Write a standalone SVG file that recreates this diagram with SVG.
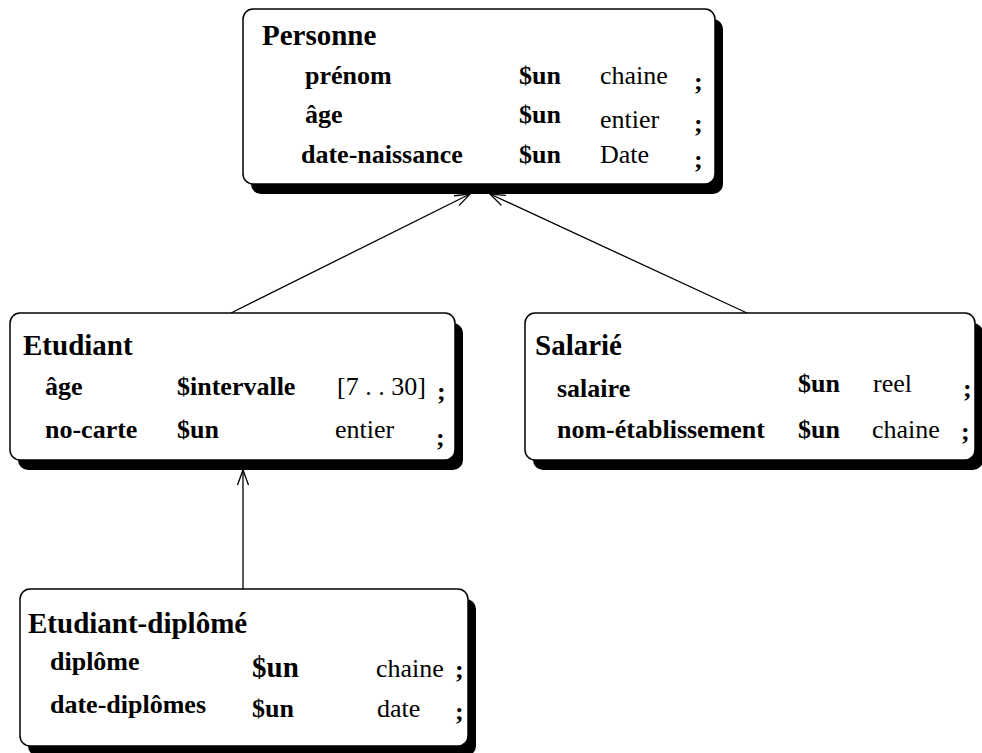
<svg xmlns="http://www.w3.org/2000/svg" width="982" height="753" viewBox="0 0 982 753">
  <style>
    .shadow { fill: #000; }
    .box { fill: #fff; stroke: #000; stroke-width: 1.5; }
    .title { font-family: "Liberation Serif", "Times New Roman", serif; font-weight: bold; font-size: 29px; fill: #000; }
    .attr { font-family: "Liberation Serif", "Times New Roman", serif; font-weight: bold; font-size: 26px; fill: #000; }
    .type { font-family: "Liberation Serif", "Times New Roman", serif; font-size: 26px; fill: #000; }
    .edge { stroke: #000; stroke-width: 1.3; fill: none; marker-end: url(#open); }
  </style>
  <defs>
    <marker id="open" markerUnits="userSpaceOnUse" markerWidth="20" markerHeight="14" refX="0" refY="0" viewBox="-16 -7 20 14" orient="auto">
      <path d="M -15,-5.5 L 0,0 L -15,5.5" fill="none" stroke="#000" stroke-width="1.3"/>
    </marker>
  </defs>

  <!-- inheritance links -->
  <g id="connectors">
    <line class="edge" x1="231" y1="313" x2="470" y2="194"/>
    <line class="edge" x1="747" y1="313" x2="490" y2="194"/>
    <line class="edge" x1="243" y1="589" x2="243" y2="470"/>
  </g>

  <g id="personne">
    <rect class="shadow" x="251" y="19" width="472" height="175" rx="10"/>
    <rect class="box" x="243" y="9" width="472" height="175" rx="10"/>
    <text class="title" x="262" y="45">Personne</text>
    <text class="attr" x="305" y="84">prénom</text>
    <text class="attr" x="519" y="84">$un</text>
    <text class="type" x="600" y="84">chaine</text>
    <text class="attr" x="694" y="90">;</text>
    <text class="attr" x="305" y="123">âge</text>
    <text class="attr" x="519" y="123">$un</text>
    <text class="type" x="600" y="128">entier</text>
    <text class="attr" x="694" y="132">;</text>
    <text class="attr" x="301" y="163">date-naissance</text>
    <text class="attr" x="519" y="163">$un</text>
    <text class="type" x="600" y="163">Date</text>
    <text class="attr" x="694" y="168">;</text>
  </g>

  <g id="etudiant">
    <rect class="shadow" x="18" y="323" width="445" height="147" rx="10"/>
    <rect class="box" x="10" y="313" width="445" height="147" rx="10"/>
    <text class="title" x="23" y="355">Etudiant</text>
    <text class="attr" x="45" y="395">âge</text>
    <text class="attr" x="177" y="395">$intervalle</text>
    <text class="type" x="337" y="395">[7 . . 30]</text>
    <text class="attr" x="437" y="400">;</text>
    <text class="attr" x="45" y="438">no-carte</text>
    <text class="attr" x="177" y="438">$un</text>
    <text class="type" x="335" y="438">entier</text>
    <text class="attr" x="436" y="446">;</text>
  </g>

  <g id="salarie">
    <rect class="shadow" x="533" y="323" width="450" height="147" rx="10"/>
    <rect class="box" x="525" y="313" width="450" height="147" rx="10"/>
    <text class="title" x="535" y="355">Salarié</text>
    <text class="attr" x="557" y="397">salaire</text>
    <text class="attr" x="798" y="392">$un</text>
    <text class="type" x="873" y="392">reel</text>
    <text class="attr" x="963" y="397">;</text>
    <text class="attr" x="557" y="438">nom-établissement</text>
    <text class="attr" x="798" y="438">$un</text>
    <text class="type" x="872" y="438">chaine</text>
    <text class="attr" x="961" y="440">;</text>
  </g>

  <g id="etudiant-diplome">
    <rect class="shadow" x="28" y="599" width="448" height="157" rx="10"/>
    <rect class="box" x="20" y="589" width="448" height="157" rx="10"/>
    <text class="title" x="28" y="633">Etudiant-diplômé</text>
    <text class="attr" x="50" y="670">diplôme</text>
    <text class="attr" x="252" y="677" style="font-size:29px">$un</text>
    <text class="type" x="376" y="677">chaine</text>
    <text class="attr" x="455" y="678">;</text>
    <text class="attr" x="50" y="713">date-diplômes</text>
    <text class="attr" x="252" y="717">$un</text>
    <text class="type" x="377" y="717">date</text>
    <text class="attr" x="455" y="720">;</text>
  </g>
</svg>
